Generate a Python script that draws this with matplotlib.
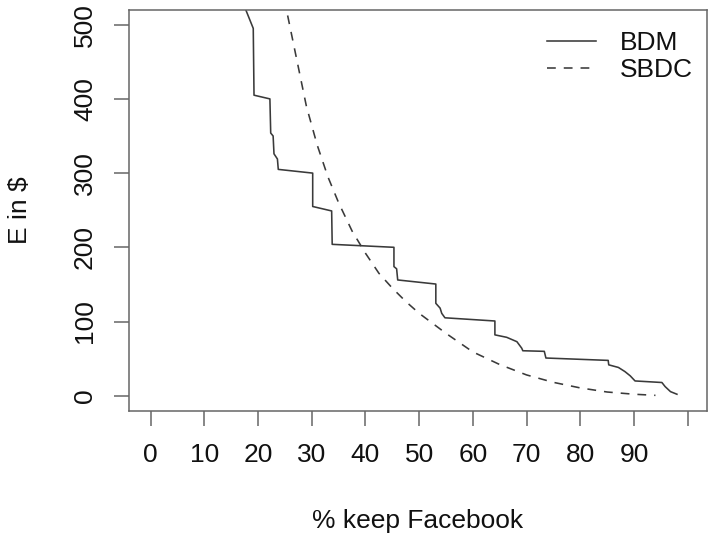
import matplotlib
matplotlib.use('Agg')
import matplotlib.pyplot as plt

# BDM step curve
bdm_x = [16.6, 19.1, 19.24, 22.2, 22.35, 22.8, 22.96, 23.6, 23.76, 30.17, 30.17, 33.7, 33.8,
         45.3, 45.3, 45.8, 46.0, 53.1, 53.1, 53.9, 54.2, 54.8, 64.1, 64.1, 66.3, 68.2, 69.1,
         69.3, 73.3, 73.6, 85.2, 85.3, 87.1, 88.3, 89.3, 90.2, 95.2, 95.8, 96.8, 98.0]
bdm_y = [540, 495, 405, 400, 354, 350, 326, 319, 305, 300, 255, 249, 204,
         200, 174, 171, 156, 150.5, 124.5, 118, 111, 105, 100.7, 82, 78.7, 72.8, 64,
         60.6, 59.8, 50.8, 47.6, 41.6, 38.1, 32.6, 26.8, 19.9, 17.8, 12.3, 5.5, 2]

# SBDC smooth curve
sbdc_x = [24.5, 25, 27, 29, 31, 33, 35, 37.5, 40, 42.5, 45, 47.5, 50, 55, 60, 65, 70, 75,
          80, 85, 90, 94]
sbdc_y = [560, 530, 460, 390, 338, 295, 260, 222, 192, 165, 145, 127, 111, 84, 59, 42, 28, 18,
          10.5, 5, 2, 0.5]

x_ticks = [0, 10, 20, 30, 40, 50, 60, 70, 80, 90, 100]
x_tick_labels = ['0', '10', '20', '30', '40', '50', '60', '70', '80', '90', '']
y_ticks = [0, 100, 200, 300, 400, 500]
y_tick_labels = ['0', '100', '200', '300', '400', '500']

plt.rcParams['font.family'] = ['Liberation Sans', 'DejaVu Sans']
FS = 19
W, H = 708, 542
fig = plt.figure(figsize=(W / 100, H / 100), dpi=100)
ax = fig.add_axes([129 / W, (H - 411) / H, (707 - 129) / W, (411 - 10) / H])

line_col = '#3a3a3a'
ax.plot(bdm_x, bdm_y, color=line_col, lw=1.15, label='BDM')
ax.plot(sbdc_x, sbdc_y, color=line_col, lw=1.15, ls=(0, (5.5, 5.0)), label='SBDC')

ax.set_xlim(-4.04, 103.6)
ax.set_ylim(-20.6, 519.8)

box_col = '#666666'
for s in ax.spines.values():
    s.set_color(box_col)
    s.set_linewidth(1.1)

ax.set_xticks(x_ticks)
ax.set_xticklabels(x_tick_labels, fontsize=FS)
ax.set_yticks(y_ticks)
ax.set_yticklabels(y_tick_labels, fontsize=FS, rotation=90, va='center')
ax.tick_params(axis='both', direction='out', length=11, width=1.1, color=box_col,
               labelcolor='#111111')
ax.tick_params(axis='x', pad=12)
ax.tick_params(axis='y', pad=12)

fig.text(418 / W, 1 - 521 / H, '% keep Facebook', fontsize=FS, ha='center', va='center',
         color='#111111')
fig.text(20 / W, 1 - 210 / H, 'E in $', fontsize=FS, ha='center', va='center',
         rotation=90, color='#111111')

ax.legend(loc='upper left', bbox_to_anchor=(547 / W, 1 - 31 / H), bbox_transform=fig.transFigure,
          frameon=False, handlelength=1.85, handletextpad=0.9, labelspacing=0.12,
          fontsize=FS, borderpad=0, borderaxespad=0, labelcolor='#111111')

fig.savefig('out.png', dpi=100)
